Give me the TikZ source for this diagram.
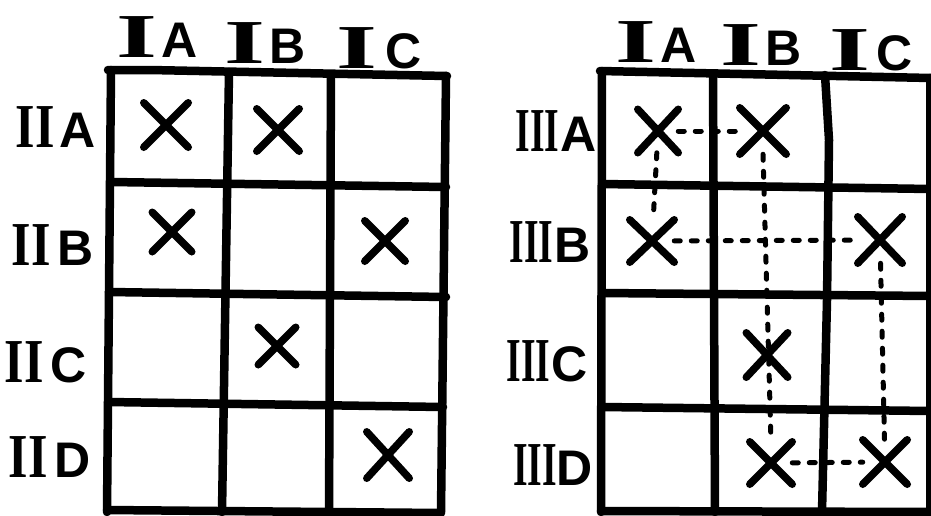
\documentclass[tikz,border=0pt]{standalone}
\usepackage{graphicx}
\usepackage{fontspec}
\setmainfont{Liberation Sans}
\newfontfamily\numfont{Liberation Serif}
\usetikzlibrary{shapes.misc}
\newcommand\rnm[2]{\scalebox{#1}[1.25]{\numfont\bfseries #2}}
\begin{document}
\begin{tikzpicture}[x=1pt,y=-1pt,
  gridline/.style={line width=8.5pt, line cap=round, line join=round},
  xm/.style={cross out, draw, line width=7.5pt, line cap=round, inner sep=0pt, minimum size=#1},
  lab/.style={font=\bfseries\fontsize{50}{50}\selectfont, inner sep=0pt},
  dl/.style={line width=5pt, line cap=round, dash pattern=on 6pt off 11pt}]
\useasboundingbox (0,0) rectangle (931,515);
\fill[white] (0,0) rectangle (931,515);

% ---------- left grid ----------
\draw[gridline] (108,70) -- (150,70) -- (447,76);
\draw[gridline] (111,182) -- (446,187);
\draw[gridline] (109,292) -- (446,297);
\draw[gridline] (108,402) -- (443,407);
\draw[gridline] (107,510) -- (441,513);
\draw[gridline] (111,70) -- (107,512);
\draw[gridline] (229,72) -- (222,512);
\draw[gridline] (331,75) -- (329,512);
\draw[gridline] (446,76) -- (441,512);

\node[lab] (LcA) at (157,37) {\rnm{2.1}{I}\hspace{4pt}A};
\node[lab] (LcB) at (265,43) {\rnm{2.1}{I}\hspace{4pt}B};
\node[lab] (LcC) at (379,48) {\rnm{2.1}{I}\hspace{9pt}C};
\node[lab] (LrA) at (56,127) {\rnm{1}{II}\hspace{5pt}A};
\node[lab] (LrB) at (53,245) {\rnm{1}{II}\hspace{7pt}B};
\node[lab] (LrC) at (46,362) {\rnm{1}{II}\hspace{7pt}C};
\node[lab] (LrD) at (50,457) {\rnm{1}{II}\hspace{7pt}D};

\node[xm=37pt] (L11) at (166,125) {};
\node[xm=35pt] (L12) at (278,130) {};
\node[xm=32pt] (L21) at (172,232) {};
\node[xm=33pt] (L23) at (385,241) {};
\node[xm=30pt] (L32) at (277,346) {};
\node[xm=35pt, minimum height=39pt] (L43) at (388,455) {};

% ---------- right grid ----------
\draw[gridline] (600,71) -- (931,78);
\draw[gridline] (602,184) -- (931,189);
\draw[gridline] (602,293) -- (931,296);
\draw[gridline] (602,407) -- (931,411);
\draw[gridline] (601,511) -- (931,512);
\draw[gridline] (602,71) -- (601,512);
\draw[gridline] (713,74) -- (715,512);
\draw[gridline] (825,75) -- (829,140) -- (827,300) -- (822,512);
\draw[gridline] (930,78) -- (930,512);

\node[lab] (RcA) at (656,42) {\rnm{2.1}{I}\hspace{4pt}A};
\node[lab] (RcB) at (761,45) {\rnm{2.1}{I}\hspace{4pt}B};
\node[lab] (RcC) at (871,50) {\rnm{2.1}{I}\hspace{7pt}C};
\node[lab] (RrA) at (556,131) {\rnm{0.75}{III}\hspace{1pt}A};
\node[lab] (RrB) at (550,242) {\rnm{0.75}{III}\hspace{1pt}B};
\node[lab] (RrC) at (547,361) {\rnm{0.75}{III}\hspace{1pt}C};
\node[lab] (RrD) at (553,465) {\rnm{0.75}{III}\hspace{0pt}D};

\node[xm=33pt, minimum height=36pt] (R11) at (658,131) {};
\node[xm=39pt] (R12) at (763,131) {};
\node[xm=37pt, minimum height=35pt] (R21) at (652,241) {};
\node[xm=37pt, minimum height=39pt] (R23) at (880,240) {};
\node[xm=34pt, minimum height=37pt] (R32) at (767,355) {};
\node[xm=35pt] (R42) at (771,463) {};
\node[xm=37pt] (R43) at (885,462) {};

\draw[dl] (R11) -- (R12);
\draw[dl] (R11) -- (R21);
\draw[dl] (R12.south) -- (R42.north);
\draw[dl] (R21) -- (R23);
\draw[dl] (R23) -- (R43);
\draw[dl] (R42) -- (R43);
\end{tikzpicture}
\end{document}
